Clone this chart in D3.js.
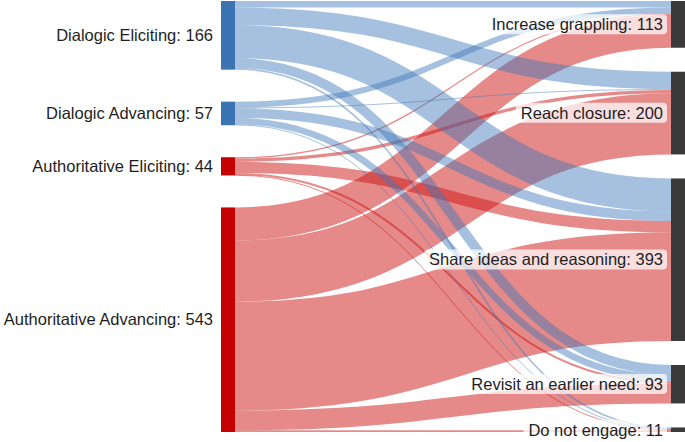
<!DOCTYPE html>
<html>
<head>
<meta charset="utf-8">
<script src="https://cdn.jsdelivr.net/npm/d3@7"></script>
<style>
  body { margin: 0; background: #fff; }
  text { font-family: "Liberation Sans", Arial, Helvetica, sans-serif; font-size: 16.5px; fill: #1e1e1e; }
</style>
</head>
<body>
<script>
var width = 685;
var height = 442;

// talk moves (left) and what the students did next (right)
var sources = ['Dialogic Eliciting', 'Dialogic Advancing', 'Authoritative Eliciting', 'Authoritative Advancing'];
var targets = ['Increase grappling', 'Reach closure', 'Share ideas and reasoning', 'Revisit an earlier need', 'Do not engage'];

// flows from each source to the targets, in target order
var flowDialogicEliciting = [16, 42, 80, 24, 4];
var flowDialogicAdvancing = [14, 2, 23, 16, 2];
var flowAuthEliciting = [3, 8, 27, 5, 1];
var flowAuthAdvancing = [80, 148, 263, 48, 4];

var flows = [flowDialogicEliciting, flowDialogicAdvancing, flowAuthEliciting, flowAuthAdvancing];

var nodeWidth = 14;
var padding = 24;
var yTop = 1, yBottom = 432;

var svg = d3.select('body').append('svg')
    .attr('width', width)
    .attr('height', height);

// build nodes + links
var left = sources.map(function(name, i) {
  return { name: name, col: 0, index: i, value: d3.sum(flows[i]), dialogic: i < 2 };
});
var right = targets.map(function(name, j) {
  return { name: name, col: 1, index: j, value: d3.sum(flows, function(f) { return f[j]; }) };
});
var links = [];
flows.forEach(function(f, i) {
  f.forEach(function(v, j) {
    links.push({ source: left[i], target: right[j], value: v });
  });
});

var columns = [left, right];
var ky = d3.min(columns, function(c) {
  return (yBottom - yTop - (c.length - 1) * padding) / d3.sum(c, function(n) { return n.value; });
});
var size = d3.scaleLinear().domain([0, 1]).range([0, ky]);
var x = d3.scaleLinear().domain([0, 1]).range([221, width - nodeWidth]);

// stack nodes, spreading leftover room evenly between them
columns.forEach(function(c) {
  var total = d3.sum(c, function(n) { return size(n.value); });
  var gap = (yBottom - yTop - total) / (c.length - 1);
  var y = yTop;
  c.forEach(function(n) {
    n.x0 = x(n.col);
    n.x1 = n.x0 + nodeWidth;
    n.y0 = y;
    n.y1 = y + size(n.value);
    y = n.y1 + gap;
  });
});

// link offsets inside their nodes
left.forEach(function(n) {
  var sy = n.y0;
  links.filter(function(l) { return l.source === n; })
    .sort(function(a, b) { return a.target.index - b.target.index; })
    .forEach(function(l) { l.width = size(l.value); l.y0 = sy + l.width / 2; sy += l.width; });
});
right.forEach(function(n) {
  var ty = n.y0;
  links.filter(function(l) { return l.target === n; })
    .sort(function(a, b) { return a.source.index - b.source.index; })
    .forEach(function(l) { l.y1 = ty + l.width / 2; ty += l.width; });
});

var path = d3.linkHorizontal()
    .source(function(d) { return [d.source.x1, d.y0]; })
    .target(function(d) { return [d.target.x0, d.y1]; });

// red ones first so the blue sits on top
svg.append('g')
    .attr('fill', 'none')
  .selectAll('path')
  .data(links.filter(function(l) { return l.value > 0; }).reverse())
  .enter().append('path')
    .attr('d', path)
    .attr('stroke', function(d) { return d.source.dialogic ? 'rgb(60,120,185)' : 'rgb(205,20,20)'; })
    .attr('stroke-opacity', function(d) { return d.source.dialogic ? 0.46 : 0.5; })
    .attr('stroke-width', function(d) { return Math.max(1, d.width); });

svg.append('g').selectAll('rect')
  .data(left.concat(right))
  .enter().append('rect')
    .attr('x', function(d) { return d.x0; })
    .attr('y', function(d) { return d.y0; })
    .attr('width', nodeWidth)
    .attr('height', function(d) { return Math.max(2, d.y1 - d.y0); })
    .attr('fill', function(d) {
      if (d.col === 1) return '#3a3a3a';
      return d.dialogic ? '#3a74b2' : '#c40000';
    });

// left labels
svg.append('g').selectAll('text')
  .data(left)
  .enter().append('text')
    .attr('x', function(d) { return d.x0 - 8; })
    .attr('y', function(d) { return (d.y0 + d.y1) / 2; })
    .attr('dy', '0.35em')
    .attr('text-anchor', 'end')
    .text(function(d) { return d.name + ': ' + d.value; });

// right labels with a soft box behind them
var rl = svg.append('g').selectAll('g')
  .data(right)
  .enter().append('g');

rl.append('rect');
rl.append('text')
    .attr('x', function(d) { return d.x0 - 8; })
    .attr('y', function(d) { return (d.y0 + d.y1) / 2; })
    .attr('dy', '0.35em')
    .attr('text-anchor', 'end')
    .text(function(d) { return d.name + ': ' + d.value; });

rl.each(function() {
  var g = d3.select(this);
  var b = g.select('text').node().getBBox();
  g.select('rect')
    .attr('x', b.x - 5)
    .attr('y', b.y - 1)
    .attr('width', b.width + 9)
    .attr('height', b.height + 2)
    .attr('rx', 4)
    .attr('fill', '#fff')
    .attr('fill-opacity', 0.72);
});
</script>
</body>
</html>
